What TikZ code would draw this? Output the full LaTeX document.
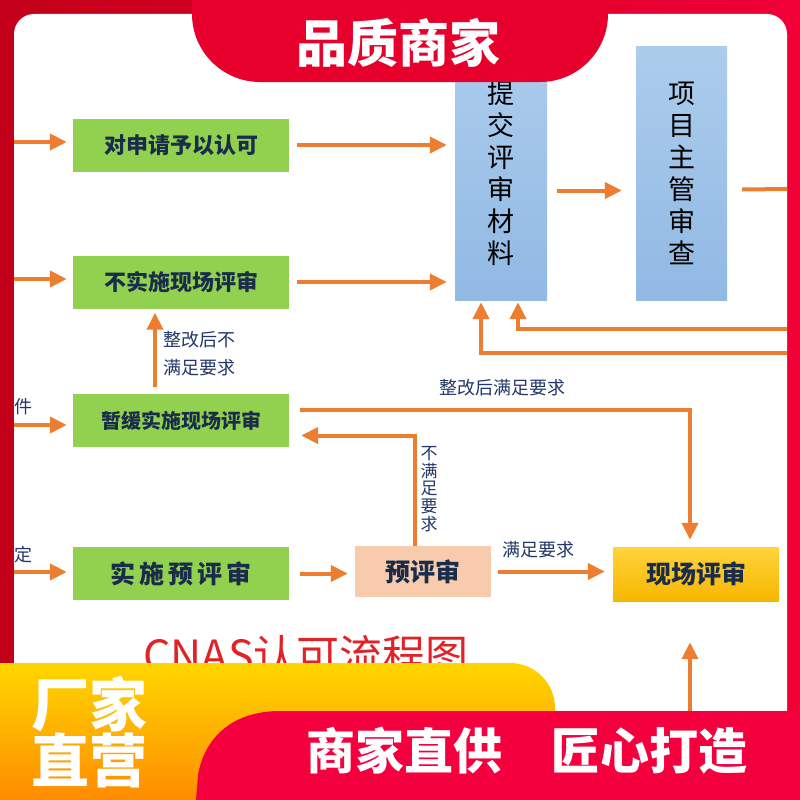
\documentclass[tikz,border=0pt]{standalone}
\usepackage{fontspec}
\setmainfont{Noto Sans CJK SC}
\usetikzlibrary{arrows.meta}
\definecolor{frameL}{RGB}{195,0,25}
\definecolor{frameR}{RGB}{240,0,55}
\definecolor{banner}{RGB}{232,0,45}
\definecolor{bottomred}{RGB}{245,0,62}
\definecolor{arrow}{RGB}{237,125,49}
\definecolor{boxgreen}{RGB}{146,208,80}
\definecolor{boxpeach}{RGB}{248,203,173}
\definecolor{ink}{RGB}{25,45,75}
\definecolor{note}{RGB}{35,55,105}
\definecolor{titlered}{RGB}{225,35,40}
\tikzset{
	arr/.style={draw=arrow, line width=4pt, -{Triangle[length=17pt,width=16pt]}},
	link/.style={draw=arrow, line width=4pt},
	greenbox/.style={fill=boxgreen, minimum width=216pt, minimum height=53pt, inner sep=0pt, text=ink, font=\bfseries\fontsize{22}{22}\selectfont},
	bluebox/.style={top color={rgb,255:red,172;green,204;blue,236}, bottom color={rgb,255:red,145;green,185;blue,228}, minimum width=92pt, minimum height=253pt, inner sep=0pt, align=center, text=black, font=\fontsize{27}{32}\selectfont},
	notetext/.style={text=note, inner sep=0pt, font=\fontsize{18}{28}\selectfont},
}
\begin{document}
\begin{tikzpicture}[x=1pt, y=-1pt]
	\useasboundingbox (0,0) rectangle (800,800);
	\shade [left color=frameL, right color=frameR] (0,0) rectangle (800,800);
	\fill [white] (14,800) -- (14,34) .. controls (14,23) and (23,14) .. (34,14) -- (767,14) .. controls (778,14) and (787,23) .. (787,34) -- (787,800) -- cycle;

	\node [greenbox] (box1) at (181,145) {对申请予以认可};
	\node [greenbox] (box2) at (181,282) {不实施现场评审};
	\node [greenbox, font=\bfseries\fontsize{20}{20}\selectfont] (box3) at (181,420.5) {暂缓实施现场评审};
	\node [greenbox, font=\bfseries\fontsize{25}{25}\selectfont] (box4) at (181,573.5) {实\,施\,预\,评\,审};
	\node [bluebox] (tijiao) at (501,173.5) {提\\交\\评\\审\\材\\料};
	\node [bluebox, minimum width=91pt] (xiangmu) at (681.5,173.5) {项\\目\\主\\管\\审\\查};
	\node [fill=boxpeach, minimum width=136pt, minimum height=51pt, inner sep=0pt, text=ink, font=\bfseries\fontsize{25}{25}\selectfont] (yu) at (423,571.5) {预评审};
	\node [top color={rgb,255:red,255;green,212;blue,60}, bottom color={rgb,255:red,246;green,182;blue,0}, minimum width=166pt, minimum height=54pt, inner sep=0pt, text=ink, font=\bfseries\fontsize{25}{25}\selectfont] (xianchang) at (696,574) {现场评审};

	\coordinate (in1) at (14,142);
	\coordinate (in2) at (14,279);
	\coordinate (in3) at (14,425);
	\coordinate (in4) at (14,572);
	\coordinate (out1) at (787,189);
	\coordinate (back1) at (787,329);
	\coordinate (back2) at (787,353);
	\coordinate (bot) at (690,720);

	\draw [arr, shorten >=6pt] (in1) -- (in1 -| box1.west);
	\draw [arr, shorten >=6pt] (in2) -- (in2 -| box2.west);
	\draw [arr, shorten >=6pt] (in3) -- (in3 -| box3.west);
	\draw [arr, shorten >=6pt] (in4) -- (in4 -| box4.west);
	\draw [arr, shorten <=8pt, shorten >=8pt] (box1.east) -- (box1.east -| tijiao.west);
	\draw [arr, shorten <=8pt, shorten >=8pt] (box2.east) -- (box2.east -| tijiao.west);
	\draw [arr] ([xshift=-26pt,yshift=7pt]box3.north) -- ([xshift=-26pt,yshift=-4pt]box2.south);
	\draw [arr, shorten >=7pt] ([shift={(11pt,11pt)}]box3.east) -| ([xshift=-6pt]xianchang.north);
	\draw [arr] ([xshift=-8pt]yu.north) |- ([shift={(12pt,-15pt)}]box3.east);
	\draw [arr, shorten <=11pt, shorten >=7pt] (box4.east) -- (box4.east -| yu.west);
	\draw [arr, shorten <=7pt, shorten >=8pt] (yu.east) -- (yu.east -| xianchang.west);
	\draw [arr, shorten >=41pt] (bot) -- (bot |- xianchang.south);
	\draw [arr, shorten <=10pt, shorten >=14pt] ([yshift=-17pt]tijiao.east) -- ([yshift=-17pt]xiangmu.west);
	\draw [link] ([shift={(15pt,-16pt)}]xiangmu.east) -- (out1);
	\draw [arr] (back1) -| ([shift={(17pt,-2pt)}]tijiao.south);
	\draw [arr] (back2) -| ([shift={(-20pt,-2pt)}]tijiao.south);

	\node [notetext, anchor=west, align=left] (fix1) at (163,354) {整改后不\\满足要求};
	\node [notetext] (fix2) at (502,388) {整改后满足要求};
	\node [notetext, align=center, font=\fontsize{17}{17.6}\selectfont] (fail) at (429,489) {不\\满\\足\\要\\求};
	\node [notetext] (pass) at (538,550) {满足要求};
	\node [notetext, anchor=west] (cut1) at (14,407) {件};
	\node [notetext, anchor=west] (cut2) at (14,555) {定};
	\node [text=titlered, inner sep=0pt, font=\fontsize{43}{43}\selectfont] (title) at (306,655) {CNAS认可流程图};

	\shade [top color={rgb,255:red,255;green,214;blue,0}, bottom color={rgb,255:red,255;green,140;blue,0}] (0,663) -- (510,663) .. controls (535,663) and (555,683) .. (555,708) -- (555,800) -- (0,800) -- cycle;
	\fill [bottomred] (196,800) -- (198,775) .. controls (205,735) and (235,711) .. (280,711) -- (800,711) -- (800,800) -- cycle;
	\fill [banner] (192,0) -- (192,14) .. controls (192,51.5) and (222.5,82) .. (260,82) -- (540,82) .. controls (577.5,82) and (608,51.5) .. (608,14) -- (608,0) -- cycle;

	\node [text=white, font=\bfseries\fontsize{51}{51}\selectfont] (head) at (398,43) {品质商家};
	\node [text=white, align=left, inner sep=0pt, font=\bfseries\fontsize{58}{55}\selectfont] (direct) at (89,732) {厂家\\直营};
	\node [text=white, inner sep=0pt, font=\bfseries\fontsize{49}{49}\selectfont] (slogan) at (527,751) {商家直供\hspace{1em}匠心打造};
\end{tikzpicture}
\end{document}
